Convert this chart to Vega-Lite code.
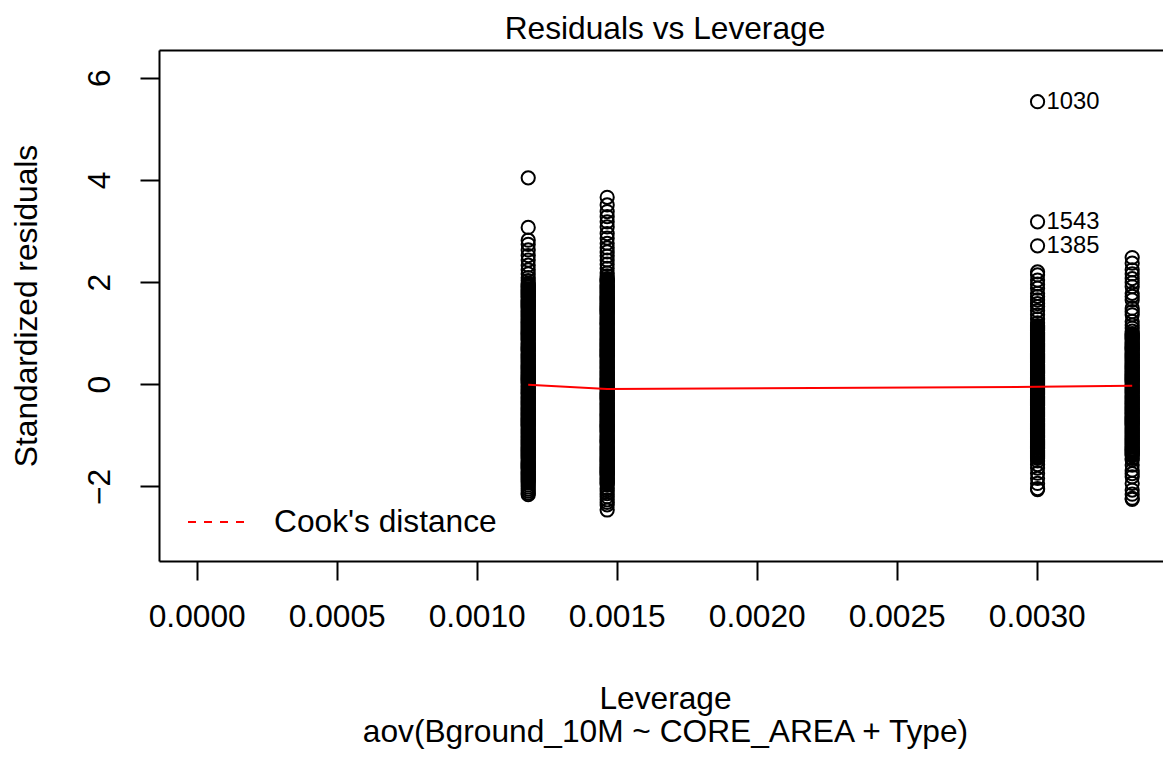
{
"$schema": "https://vega.github.io/schema/vega-lite/v6.json",
"width": 1004, "height": 511,
"autosize": {"type": "none"},
"padding": {"left": 159, "top": 50, "right": 0, "bottom": 196},
"background": "white",
"config": {"view": {"stroke": null}, "font": "Liberation Sans", "axis": {"grid": false}},
"title": {"text": "Residuals vs Leverage", "fontSize": 31.7, "fontWeight": "normal", "font": "Liberation Sans", "color": "black", "anchor": "middle", "baseline": "alphabetic", "offset": 13, "dx": 4, "dy": 34},
"datasets": {
"pts": [
{"lev":0.001184,"res":4.04},{"lev":0.001184,"res":3.07},{"lev":0.001184,"res":2.82},{"lev":0.001184,"res":2.74},{"lev":0.001184,"res":2.63},{"lev":0.001184,"res":2.52},{"lev":0.001184,"res":2.43},{"lev":0.001184,"res":2.33},{"lev":0.001184,"res":2.24},{"lev":0.001184,"res":2.16},{"lev":0.001184,"res":2.09},{"lev":0.001184,"res":2.03},
{"lev":0.001184,"res":1.98},{"lev":0.001184,"res":1.94},{"lev":0.001184,"res":1.90},{"lev":0.001184,"res":1.85},{"lev":0.001184,"res":1.81},{"lev":0.001184,"res":1.77},{"lev":0.001184,"res":1.73},{"lev":0.001184,"res":1.69},{"lev":0.001184,"res":1.64},{"lev":0.001184,"res":1.60},{"lev":0.001184,"res":1.56},{"lev":0.001184,"res":1.52},{"lev":0.001184,"res":1.48},{"lev":0.001184,"res":1.43},{"lev":0.001184,"res":1.39},{"lev":0.001184,"res":1.35},{"lev":0.001184,"res":1.31},{"lev":0.001184,"res":1.27},{"lev":0.001184,"res":1.22},{"lev":0.001184,"res":1.18},{"lev":0.001184,"res":1.14},{"lev":0.001184,"res":1.10},{"lev":0.001184,"res":1.06},{"lev":0.001184,"res":1.01},{"lev":0.001184,"res":0.97},{"lev":0.001184,"res":0.93},{"lev":0.001184,"res":0.89},{"lev":0.001184,"res":0.85},{"lev":0.001184,"res":0.80},{"lev":0.001184,"res":0.76},{"lev":0.001184,"res":0.72},{"lev":0.001184,"res":0.68},{"lev":0.001184,"res":0.64},{"lev":0.001184,"res":0.59},{"lev":0.001184,"res":0.55},{"lev":0.001184,"res":0.51},{"lev":0.001184,"res":0.47},{"lev":0.001184,"res":0.43},{"lev":0.001184,"res":0.38},{"lev":0.001184,"res":0.34},{"lev":0.001184,"res":0.30},{"lev":0.001184,"res":0.26},{"lev":0.001184,"res":0.22},{"lev":0.001184,"res":0.17},{"lev":0.001184,"res":0.13},{"lev":0.001184,"res":0.09},{"lev":0.001184,"res":0.05},{"lev":0.001184,"res":0.01},{"lev":0.001184,"res":-0.04},{"lev":0.001184,"res":-0.08},{"lev":0.001184,"res":-0.12},{"lev":0.001184,"res":-0.16},{"lev":0.001184,"res":-0.20},{"lev":0.001184,"res":-0.25},{"lev":0.001184,"res":-0.29},{"lev":0.001184,"res":-0.33},{"lev":0.001184,"res":-0.37},{"lev":0.001184,"res":-0.41},{"lev":0.001184,"res":-0.46},{"lev":0.001184,"res":-0.50},{"lev":0.001184,"res":-0.54},{"lev":0.001184,"res":-0.58},{"lev":0.001184,"res":-0.62},{"lev":0.001184,"res":-0.67},{"lev":0.001184,"res":-0.71},{"lev":0.001184,"res":-0.75},{"lev":0.001184,"res":-0.79},{"lev":0.001184,"res":-0.83},{"lev":0.001184,"res":-0.88},{"lev":0.001184,"res":-0.92},{"lev":0.001184,"res":-0.96},{"lev":0.001184,"res":-1.00},{"lev":0.001184,"res":-1.04},{"lev":0.001184,"res":-1.09},{"lev":0.001184,"res":-1.13},{"lev":0.001184,"res":-1.17},{"lev":0.001184,"res":-1.21},{"lev":0.001184,"res":-1.25},{"lev":0.001184,"res":-1.30},{"lev":0.001184,"res":-1.34},{"lev":0.001184,"res":-1.38},{"lev":0.001184,"res":-1.42},{"lev":0.001184,"res":-1.46},{"lev":0.001184,"res":-1.51},{"lev":0.001184,"res":-1.55},{"lev":0.001184,"res":-1.59},{"lev":0.001184,"res":-1.63},{"lev":0.001184,"res":-1.67},{"lev":0.001184,"res":-1.72},{"lev":0.001184,"res":-1.76},{"lev":0.001184,"res":-1.80},{"lev":0.001184,"res":-1.84},{"lev":0.001184,"res":-1.88},{"lev":0.001184,"res":-1.93},
{"lev":0.001184,"res":1.96},{"lev":0.001184,"res":1.92},{"lev":0.001184,"res":1.87},{"lev":0.001184,"res":1.83},{"lev":0.001184,"res":1.79},{"lev":0.001184,"res":1.75},{"lev":0.001184,"res":1.71},{"lev":0.001184,"res":1.66},{"lev":0.001184,"res":1.62},{"lev":0.001184,"res":1.58},{"lev":0.001184,"res":1.54},{"lev":0.001184,"res":1.50},{"lev":0.001184,"res":1.45},{"lev":0.001184,"res":1.41},{"lev":0.001184,"res":1.37},{"lev":0.001184,"res":1.33},{"lev":0.001184,"res":1.29},{"lev":0.001184,"res":1.24},{"lev":0.001184,"res":1.20},{"lev":0.001184,"res":1.16},{"lev":0.001184,"res":1.12},{"lev":0.001184,"res":1.08},{"lev":0.001184,"res":1.03},{"lev":0.001184,"res":0.99},{"lev":0.001184,"res":0.95},{"lev":0.001184,"res":0.91},{"lev":0.001184,"res":0.87},{"lev":0.001184,"res":0.82},{"lev":0.001184,"res":0.78},{"lev":0.001184,"res":0.74},{"lev":0.001184,"res":0.70},{"lev":0.001184,"res":0.66},{"lev":0.001184,"res":0.61},{"lev":0.001184,"res":0.57},{"lev":0.001184,"res":0.53},{"lev":0.001184,"res":0.49},{"lev":0.001184,"res":0.45},{"lev":0.001184,"res":0.40},{"lev":0.001184,"res":0.36},{"lev":0.001184,"res":0.32},{"lev":0.001184,"res":0.28},{"lev":0.001184,"res":0.24},{"lev":0.001184,"res":0.19},{"lev":0.001184,"res":0.15},{"lev":0.001184,"res":0.11},{"lev":0.001184,"res":0.07},{"lev":0.001184,"res":0.03},{"lev":0.001184,"res":-0.02},{"lev":0.001184,"res":-0.06},{"lev":0.001184,"res":-0.10},{"lev":0.001184,"res":-0.14},{"lev":0.001184,"res":-0.18},{"lev":0.001184,"res":-0.23},{"lev":0.001184,"res":-0.27},{"lev":0.001184,"res":-0.31},{"lev":0.001184,"res":-0.35},{"lev":0.001184,"res":-0.39},{"lev":0.001184,"res":-0.44},{"lev":0.001184,"res":-0.48},{"lev":0.001184,"res":-0.52},{"lev":0.001184,"res":-0.56},{"lev":0.001184,"res":-0.60},{"lev":0.001184,"res":-0.65},{"lev":0.001184,"res":-0.69},{"lev":0.001184,"res":-0.73},{"lev":0.001184,"res":-0.77},{"lev":0.001184,"res":-0.81},{"lev":0.001184,"res":-0.86},{"lev":0.001184,"res":-0.90},{"lev":0.001184,"res":-0.94},{"lev":0.001184,"res":-0.98},{"lev":0.001184,"res":-1.02},{"lev":0.001184,"res":-1.07},{"lev":0.001184,"res":-1.11},{"lev":0.001184,"res":-1.15},{"lev":0.001184,"res":-1.19},{"lev":0.001184,"res":-1.23},{"lev":0.001184,"res":-1.28},{"lev":0.001184,"res":-1.32},{"lev":0.001184,"res":-1.36},{"lev":0.001184,"res":-1.40},{"lev":0.001184,"res":-1.44},{"lev":0.001184,"res":-1.49},{"lev":0.001184,"res":-1.53},{"lev":0.001184,"res":-1.57},{"lev":0.001184,"res":-1.61},{"lev":0.001184,"res":-1.65},{"lev":0.001184,"res":-1.70},{"lev":0.001184,"res":-1.74},{"lev":0.001184,"res":-1.78},{"lev":0.001184,"res":-1.82},{"lev":0.001184,"res":-1.86},{"lev":0.001184,"res":-1.90},
{"lev":0.001184,"res":-1.97},{"lev":0.001184,"res":-2.01},{"lev":0.001184,"res":-2.05},{"lev":0.001184,"res":-2.09},{"lev":0.001184,"res":-2.13},{"lev":0.001184,"res":-2.16},
{"lev":0.001466,"res":3.66},{"lev":0.001466,"res":3.51},{"lev":0.001466,"res":3.38},{"lev":0.001466,"res":3.28},{"lev":0.001466,"res":3.18},{"lev":0.001466,"res":3.08},{"lev":0.001466,"res":2.95},{"lev":0.001466,"res":2.86},{"lev":0.001466,"res":2.76},{"lev":0.001466,"res":2.67},{"lev":0.001466,"res":2.59},{"lev":0.001466,"res":2.51},{"lev":0.001466,"res":2.43},{"lev":0.001466,"res":2.35},{"lev":0.001466,"res":2.27},{"lev":0.001466,"res":2.18},{"lev":0.001466,"res":2.12},
{"lev":0.001466,"res":2.07},{"lev":0.001466,"res":2.03},{"lev":0.001466,"res":1.99},{"lev":0.001466,"res":1.94},{"lev":0.001466,"res":1.90},{"lev":0.001466,"res":1.86},{"lev":0.001466,"res":1.82},{"lev":0.001466,"res":1.78},{"lev":0.001466,"res":1.73},{"lev":0.001466,"res":1.69},{"lev":0.001466,"res":1.65},{"lev":0.001466,"res":1.61},{"lev":0.001466,"res":1.57},{"lev":0.001466,"res":1.52},{"lev":0.001466,"res":1.48},{"lev":0.001466,"res":1.44},{"lev":0.001466,"res":1.40},{"lev":0.001466,"res":1.36},{"lev":0.001466,"res":1.31},{"lev":0.001466,"res":1.27},{"lev":0.001466,"res":1.23},{"lev":0.001466,"res":1.19},{"lev":0.001466,"res":1.15},{"lev":0.001466,"res":1.10},{"lev":0.001466,"res":1.06},{"lev":0.001466,"res":1.02},{"lev":0.001466,"res":0.98},{"lev":0.001466,"res":0.94},{"lev":0.001466,"res":0.89},{"lev":0.001466,"res":0.85},{"lev":0.001466,"res":0.81},{"lev":0.001466,"res":0.77},{"lev":0.001466,"res":0.73},{"lev":0.001466,"res":0.68},{"lev":0.001466,"res":0.64},{"lev":0.001466,"res":0.60},{"lev":0.001466,"res":0.56},{"lev":0.001466,"res":0.52},{"lev":0.001466,"res":0.47},{"lev":0.001466,"res":0.43},{"lev":0.001466,"res":0.39},{"lev":0.001466,"res":0.35},{"lev":0.001466,"res":0.31},{"lev":0.001466,"res":0.26},{"lev":0.001466,"res":0.22},{"lev":0.001466,"res":0.18},{"lev":0.001466,"res":0.14},{"lev":0.001466,"res":0.10},{"lev":0.001466,"res":0.05},{"lev":0.001466,"res":0.01},{"lev":0.001466,"res":-0.03},{"lev":0.001466,"res":-0.07},{"lev":0.001466,"res":-0.11},{"lev":0.001466,"res":-0.16},{"lev":0.001466,"res":-0.20},{"lev":0.001466,"res":-0.24},{"lev":0.001466,"res":-0.28},{"lev":0.001466,"res":-0.32},{"lev":0.001466,"res":-0.37},{"lev":0.001466,"res":-0.41},{"lev":0.001466,"res":-0.45},{"lev":0.001466,"res":-0.49},{"lev":0.001466,"res":-0.53},{"lev":0.001466,"res":-0.58},{"lev":0.001466,"res":-0.62},{"lev":0.001466,"res":-0.66},{"lev":0.001466,"res":-0.70},{"lev":0.001466,"res":-0.74},{"lev":0.001466,"res":-0.79},{"lev":0.001466,"res":-0.83},{"lev":0.001466,"res":-0.87},{"lev":0.001466,"res":-0.91},{"lev":0.001466,"res":-0.95},{"lev":0.001466,"res":-1.00},{"lev":0.001466,"res":-1.04},{"lev":0.001466,"res":-1.08},{"lev":0.001466,"res":-1.12},{"lev":0.001466,"res":-1.16},{"lev":0.001466,"res":-1.21},{"lev":0.001466,"res":-1.25},{"lev":0.001466,"res":-1.29},{"lev":0.001466,"res":-1.33},{"lev":0.001466,"res":-1.37},{"lev":0.001466,"res":-1.42},{"lev":0.001466,"res":-1.46},{"lev":0.001466,"res":-1.50},{"lev":0.001466,"res":-1.54},{"lev":0.001466,"res":-1.58},{"lev":0.001466,"res":-1.63},{"lev":0.001466,"res":-1.67},{"lev":0.001466,"res":-1.71},{"lev":0.001466,"res":-1.75},{"lev":0.001466,"res":-1.79},{"lev":0.001466,"res":-1.84},{"lev":0.001466,"res":-1.88},{"lev":0.001466,"res":-1.92},
{"lev":0.001466,"res":2.05},{"lev":0.001466,"res":2.01},{"lev":0.001466,"res":1.96},{"lev":0.001466,"res":1.92},{"lev":0.001466,"res":1.88},{"lev":0.001466,"res":1.84},{"lev":0.001466,"res":1.80},{"lev":0.001466,"res":1.75},{"lev":0.001466,"res":1.71},{"lev":0.001466,"res":1.67},{"lev":0.001466,"res":1.63},{"lev":0.001466,"res":1.59},{"lev":0.001466,"res":1.54},{"lev":0.001466,"res":1.50},{"lev":0.001466,"res":1.46},{"lev":0.001466,"res":1.42},{"lev":0.001466,"res":1.38},{"lev":0.001466,"res":1.33},{"lev":0.001466,"res":1.29},{"lev":0.001466,"res":1.25},{"lev":0.001466,"res":1.21},{"lev":0.001466,"res":1.17},{"lev":0.001466,"res":1.12},{"lev":0.001466,"res":1.08},{"lev":0.001466,"res":1.04},{"lev":0.001466,"res":1.00},{"lev":0.001466,"res":0.96},{"lev":0.001466,"res":0.91},{"lev":0.001466,"res":0.87},{"lev":0.001466,"res":0.83},{"lev":0.001466,"res":0.79},{"lev":0.001466,"res":0.75},{"lev":0.001466,"res":0.70},{"lev":0.001466,"res":0.66},{"lev":0.001466,"res":0.62},{"lev":0.001466,"res":0.58},{"lev":0.001466,"res":0.54},{"lev":0.001466,"res":0.49},{"lev":0.001466,"res":0.45},{"lev":0.001466,"res":0.41},{"lev":0.001466,"res":0.37},{"lev":0.001466,"res":0.33},{"lev":0.001466,"res":0.28},{"lev":0.001466,"res":0.24},{"lev":0.001466,"res":0.20},{"lev":0.001466,"res":0.16},{"lev":0.001466,"res":0.12},{"lev":0.001466,"res":0.07},{"lev":0.001466,"res":0.03},{"lev":0.001466,"res":-0.01},{"lev":0.001466,"res":-0.05},{"lev":0.001466,"res":-0.09},{"lev":0.001466,"res":-0.14},{"lev":0.001466,"res":-0.18},{"lev":0.001466,"res":-0.22},{"lev":0.001466,"res":-0.26},{"lev":0.001466,"res":-0.30},{"lev":0.001466,"res":-0.35},{"lev":0.001466,"res":-0.39},{"lev":0.001466,"res":-0.43},{"lev":0.001466,"res":-0.47},{"lev":0.001466,"res":-0.51},{"lev":0.001466,"res":-0.56},{"lev":0.001466,"res":-0.60},{"lev":0.001466,"res":-0.64},{"lev":0.001466,"res":-0.68},{"lev":0.001466,"res":-0.72},{"lev":0.001466,"res":-0.77},{"lev":0.001466,"res":-0.81},{"lev":0.001466,"res":-0.85},{"lev":0.001466,"res":-0.89},{"lev":0.001466,"res":-0.93},{"lev":0.001466,"res":-0.98},{"lev":0.001466,"res":-1.02},{"lev":0.001466,"res":-1.06},{"lev":0.001466,"res":-1.10},{"lev":0.001466,"res":-1.14},{"lev":0.001466,"res":-1.19},{"lev":0.001466,"res":-1.23},{"lev":0.001466,"res":-1.27},{"lev":0.001466,"res":-1.31},{"lev":0.001466,"res":-1.35},{"lev":0.001466,"res":-1.40},{"lev":0.001466,"res":-1.44},{"lev":0.001466,"res":-1.48},{"lev":0.001466,"res":-1.52},{"lev":0.001466,"res":-1.56},{"lev":0.001466,"res":-1.61},{"lev":0.001466,"res":-1.65},{"lev":0.001466,"res":-1.69},{"lev":0.001466,"res":-1.73},{"lev":0.001466,"res":-1.77},{"lev":0.001466,"res":-1.82},{"lev":0.001466,"res":-1.86},{"lev":0.001466,"res":-1.90},{"lev":0.001466,"res":-1.94},
{"lev":0.001466,"res":-1.97},{"lev":0.001466,"res":-2.03},{"lev":0.001466,"res":-2.08},{"lev":0.001466,"res":-2.14},{"lev":0.001466,"res":-2.20},{"lev":0.001466,"res":-2.26},{"lev":0.001466,"res":-2.31},{"lev":0.001466,"res":-2.36},{"lev":0.001466,"res":-2.46},
{"lev":0.003003,"res":5.53},{"lev":0.003003,"res":3.18},{"lev":0.003003,"res":2.71},
{"lev":0.003003,"res":2.20},{"lev":0.003003,"res":2.14},{"lev":0.003003,"res":2.04},{"lev":0.003003,"res":1.96},{"lev":0.003003,"res":1.88},{"lev":0.003003,"res":1.78},{"lev":0.003003,"res":1.72},{"lev":0.003003,"res":1.65},{"lev":0.003003,"res":1.58},{"lev":0.003003,"res":1.52},{"lev":0.003003,"res":1.44},{"lev":0.003003,"res":1.36},{"lev":0.003003,"res":1.28},{"lev":0.003003,"res":1.20},
{"lev":0.003003,"res":1.15},{"lev":0.003003,"res":1.11},{"lev":0.003003,"res":1.07},{"lev":0.003003,"res":1.02},{"lev":0.003003,"res":0.98},{"lev":0.003003,"res":0.94},{"lev":0.003003,"res":0.90},{"lev":0.003003,"res":0.86},{"lev":0.003003,"res":0.81},{"lev":0.003003,"res":0.77},{"lev":0.003003,"res":0.73},{"lev":0.003003,"res":0.69},{"lev":0.003003,"res":0.65},{"lev":0.003003,"res":0.60},{"lev":0.003003,"res":0.56},{"lev":0.003003,"res":0.52},{"lev":0.003003,"res":0.48},{"lev":0.003003,"res":0.44},{"lev":0.003003,"res":0.39},{"lev":0.003003,"res":0.35},{"lev":0.003003,"res":0.31},{"lev":0.003003,"res":0.27},{"lev":0.003003,"res":0.23},{"lev":0.003003,"res":0.18},{"lev":0.003003,"res":0.14},{"lev":0.003003,"res":0.10},{"lev":0.003003,"res":0.06},{"lev":0.003003,"res":0.02},{"lev":0.003003,"res":-0.03},{"lev":0.003003,"res":-0.07},{"lev":0.003003,"res":-0.11},{"lev":0.003003,"res":-0.15},{"lev":0.003003,"res":-0.19},{"lev":0.003003,"res":-0.24},{"lev":0.003003,"res":-0.28},{"lev":0.003003,"res":-0.32},{"lev":0.003003,"res":-0.36},{"lev":0.003003,"res":-0.40},{"lev":0.003003,"res":-0.45},{"lev":0.003003,"res":-0.49},{"lev":0.003003,"res":-0.53},{"lev":0.003003,"res":-0.57},{"lev":0.003003,"res":-0.61},{"lev":0.003003,"res":-0.66},{"lev":0.003003,"res":-0.70},{"lev":0.003003,"res":-0.74},{"lev":0.003003,"res":-0.78},{"lev":0.003003,"res":-0.82},{"lev":0.003003,"res":-0.87},{"lev":0.003003,"res":-0.91},{"lev":0.003003,"res":-0.95},{"lev":0.003003,"res":-0.99},{"lev":0.003003,"res":-1.03},{"lev":0.003003,"res":-1.08},{"lev":0.003003,"res":-1.12},{"lev":0.003003,"res":-1.16},{"lev":0.003003,"res":-1.20},{"lev":0.003003,"res":-1.24},{"lev":0.003003,"res":-1.29},{"lev":0.003003,"res":-1.33},{"lev":0.003003,"res":-1.37},{"lev":0.003003,"res":-1.41},{"lev":0.003003,"res":-1.45},
{"lev":0.003003,"res":1.13},{"lev":0.003003,"res":1.09},{"lev":0.003003,"res":1.05},{"lev":0.003003,"res":1.00},{"lev":0.003003,"res":0.96},{"lev":0.003003,"res":0.92},{"lev":0.003003,"res":0.88},{"lev":0.003003,"res":0.84},{"lev":0.003003,"res":0.79},{"lev":0.003003,"res":0.75},{"lev":0.003003,"res":0.71},{"lev":0.003003,"res":0.67},{"lev":0.003003,"res":0.63},{"lev":0.003003,"res":0.58},{"lev":0.003003,"res":0.54},{"lev":0.003003,"res":0.50},{"lev":0.003003,"res":0.46},{"lev":0.003003,"res":0.42},{"lev":0.003003,"res":0.37},{"lev":0.003003,"res":0.33},{"lev":0.003003,"res":0.29},{"lev":0.003003,"res":0.25},{"lev":0.003003,"res":0.21},{"lev":0.003003,"res":0.16},{"lev":0.003003,"res":0.12},{"lev":0.003003,"res":0.08},{"lev":0.003003,"res":0.04},{"lev":0.003003,"res":0.00},{"lev":0.003003,"res":-0.05},{"lev":0.003003,"res":-0.09},{"lev":0.003003,"res":-0.13},{"lev":0.003003,"res":-0.17},{"lev":0.003003,"res":-0.21},{"lev":0.003003,"res":-0.26},{"lev":0.003003,"res":-0.30},{"lev":0.003003,"res":-0.34},{"lev":0.003003,"res":-0.38},{"lev":0.003003,"res":-0.42},{"lev":0.003003,"res":-0.47},{"lev":0.003003,"res":-0.51},{"lev":0.003003,"res":-0.55},{"lev":0.003003,"res":-0.59},{"lev":0.003003,"res":-0.63},{"lev":0.003003,"res":-0.68},{"lev":0.003003,"res":-0.72},{"lev":0.003003,"res":-0.76},{"lev":0.003003,"res":-0.80},{"lev":0.003003,"res":-0.84},{"lev":0.003003,"res":-0.89},{"lev":0.003003,"res":-0.93},{"lev":0.003003,"res":-0.97},{"lev":0.003003,"res":-1.01},{"lev":0.003003,"res":-1.05},{"lev":0.003003,"res":-1.10},{"lev":0.003003,"res":-1.14},{"lev":0.003003,"res":-1.18},{"lev":0.003003,"res":-1.22},{"lev":0.003003,"res":-1.26},{"lev":0.003003,"res":-1.31},{"lev":0.003003,"res":-1.35},{"lev":0.003003,"res":-1.39},{"lev":0.003003,"res":-1.43},
{"lev":0.003003,"res":-1.50},{"lev":0.003003,"res":-1.57},{"lev":0.003003,"res":-1.64},{"lev":0.003003,"res":-1.74},{"lev":0.003003,"res":-1.84},{"lev":0.003003,"res":-1.94},{"lev":0.003003,"res":-2.04},{"lev":0.003003,"res":-2.06},
{"lev":0.003341,"res":2.48},{"lev":0.003341,"res":2.37},{"lev":0.003341,"res":2.24},{"lev":0.003341,"res":2.16},{"lev":0.003341,"res":2.07},{"lev":0.003341,"res":1.99},{"lev":0.003341,"res":1.91},{"lev":0.003341,"res":1.78},{"lev":0.003341,"res":1.72},{"lev":0.003341,"res":1.65},{"lev":0.003341,"res":1.49},{"lev":0.003341,"res":1.42},{"lev":0.003341,"res":1.36},{"lev":0.003341,"res":1.23},{"lev":0.003341,"res":1.16},{"lev":0.003341,"res":1.10},{"lev":0.003341,"res":1.04},
{"lev":0.003341,"res":0.99},{"lev":0.003341,"res":0.95},{"lev":0.003341,"res":0.91},{"lev":0.003341,"res":0.87},{"lev":0.003341,"res":0.82},{"lev":0.003341,"res":0.78},{"lev":0.003341,"res":0.74},{"lev":0.003341,"res":0.70},{"lev":0.003341,"res":0.66},{"lev":0.003341,"res":0.61},{"lev":0.003341,"res":0.57},{"lev":0.003341,"res":0.53},{"lev":0.003341,"res":0.49},{"lev":0.003341,"res":0.45},{"lev":0.003341,"res":0.40},{"lev":0.003341,"res":0.36},{"lev":0.003341,"res":0.32},{"lev":0.003341,"res":0.28},{"lev":0.003341,"res":0.24},{"lev":0.003341,"res":0.19},{"lev":0.003341,"res":0.15},{"lev":0.003341,"res":0.11},{"lev":0.003341,"res":0.07},{"lev":0.003341,"res":0.03},{"lev":0.003341,"res":-0.02},{"lev":0.003341,"res":-0.06},{"lev":0.003341,"res":-0.10},{"lev":0.003341,"res":-0.14},{"lev":0.003341,"res":-0.18},{"lev":0.003341,"res":-0.23},{"lev":0.003341,"res":-0.27},{"lev":0.003341,"res":-0.31},{"lev":0.003341,"res":-0.35},{"lev":0.003341,"res":-0.39},{"lev":0.003341,"res":-0.44},{"lev":0.003341,"res":-0.48},{"lev":0.003341,"res":-0.52},{"lev":0.003341,"res":-0.56},{"lev":0.003341,"res":-0.60},{"lev":0.003341,"res":-0.65},{"lev":0.003341,"res":-0.69},{"lev":0.003341,"res":-0.73},{"lev":0.003341,"res":-0.77},{"lev":0.003341,"res":-0.81},{"lev":0.003341,"res":-0.86},{"lev":0.003341,"res":-0.90},{"lev":0.003341,"res":-0.94},{"lev":0.003341,"res":-0.98},{"lev":0.003341,"res":-1.02},{"lev":0.003341,"res":-1.07},{"lev":0.003341,"res":-1.11},{"lev":0.003341,"res":-1.15},{"lev":0.003341,"res":-1.19},{"lev":0.003341,"res":-1.23},{"lev":0.003341,"res":-1.28},{"lev":0.003341,"res":-1.32},{"lev":0.003341,"res":-1.36},{"lev":0.003341,"res":-1.40},
{"lev":0.003341,"res":0.97},{"lev":0.003341,"res":0.93},{"lev":0.003341,"res":0.89},{"lev":0.003341,"res":0.84},{"lev":0.003341,"res":0.80},{"lev":0.003341,"res":0.76},{"lev":0.003341,"res":0.72},{"lev":0.003341,"res":0.68},{"lev":0.003341,"res":0.63},{"lev":0.003341,"res":0.59},{"lev":0.003341,"res":0.55},{"lev":0.003341,"res":0.51},{"lev":0.003341,"res":0.47},{"lev":0.003341,"res":0.42},{"lev":0.003341,"res":0.38},{"lev":0.003341,"res":0.34},{"lev":0.003341,"res":0.30},{"lev":0.003341,"res":0.26},{"lev":0.003341,"res":0.21},{"lev":0.003341,"res":0.17},{"lev":0.003341,"res":0.13},{"lev":0.003341,"res":0.09},{"lev":0.003341,"res":0.05},{"lev":0.003341,"res":0.00},{"lev":0.003341,"res":-0.04},{"lev":0.003341,"res":-0.08},{"lev":0.003341,"res":-0.12},{"lev":0.003341,"res":-0.16},{"lev":0.003341,"res":-0.21},{"lev":0.003341,"res":-0.25},{"lev":0.003341,"res":-0.29},{"lev":0.003341,"res":-0.33},{"lev":0.003341,"res":-0.37},{"lev":0.003341,"res":-0.42},{"lev":0.003341,"res":-0.46},{"lev":0.003341,"res":-0.50},{"lev":0.003341,"res":-0.54},{"lev":0.003341,"res":-0.58},{"lev":0.003341,"res":-0.63},{"lev":0.003341,"res":-0.67},{"lev":0.003341,"res":-0.71},{"lev":0.003341,"res":-0.75},{"lev":0.003341,"res":-0.79},{"lev":0.003341,"res":-0.84},{"lev":0.003341,"res":-0.88},{"lev":0.003341,"res":-0.92},{"lev":0.003341,"res":-0.96},{"lev":0.003341,"res":-1.00},{"lev":0.003341,"res":-1.05},{"lev":0.003341,"res":-1.09},{"lev":0.003341,"res":-1.13},{"lev":0.003341,"res":-1.17},{"lev":0.003341,"res":-1.21},{"lev":0.003341,"res":-1.26},{"lev":0.003341,"res":-1.30},{"lev":0.003341,"res":-1.34},{"lev":0.003341,"res":-1.38},
{"lev":0.003341,"res":-1.45},{"lev":0.003341,"res":-1.48},{"lev":0.003341,"res":-1.58},{"lev":0.003341,"res":-1.68},{"lev":0.003341,"res":-1.75},{"lev":0.003341,"res":-1.81},{"lev":0.003341,"res":-1.94},{"lev":0.003341,"res":-2.07},{"lev":0.003341,"res":-2.15},{"lev":0.003341,"res":-2.23},{"lev":0.003341,"res":-2.25}
],
"fit": [{"lev":0.001184,"res":-0.01},{"lev":0.001466,"res":-0.09},{"lev":0.003003,"res":-0.05},{"lev":0.003341,"res":-0.03}],
"lab": [{"lev":0.003003,"res":5.53,"id":"1030"},{"lev":0.003003,"res":3.18,"id":"1543"},{"lev":0.003003,"res":2.71,"id":"1385"}],
"cook": []
},
"resolve": {"axis": {"x": "independent"}},
"layer": [
{
"data": {"name": "pts"},
"mark": {"type": "point", "shape": "circle", "filled": false, "stroke": "black", "strokeWidth": 2, "size": 175, "opacity": 1},
"encoding": {
"x": {"field": "lev", "type": "quantitative", "scale": {"domain": [-0.0001346, 0.003451], "nice": false, "zero": false},
"axis": {"orient": "bottom", "values": [0, 0.0005, 0.001, 0.0015, 0.002, 0.0025, 0.003], "format": ".4f", "tickSize": 19, "tickWidth": 2, "tickColor": "black", "domainColor": "black", "domainWidth": 2, "labelFontSize": 31.7, "labelFont": "Liberation Sans", "labelBaseline": "alphabetic", "labelPadding": 46, "labelColor": "black", "labelFlush": false, "labelOverlap": false,
"title": ["Leverage", "aov(Bground_10M ~ CORE_AREA + Type)"], "titleFontSize": 31.7, "titleFont": "Liberation Sans", "titleFontWeight": "normal", "titleColor": "black", "titleBaseline": "alphabetic", "titleX": 506, "titleY": 147, "titleAlign": "center", "titleAnchor": null, "titleLineHeight": 33}},
"y": {"field": "res", "type": "quantitative", "title": "Standardized residuals", "scale": {"domain": [-3.458, 6.542], "nice": false, "zero": false},
"axis": {"orient": "left", "values": [-2, 0, 2, 4, 6], "tickSize": 19, "tickWidth": 2, "tickColor": "black", "domainColor": "black", "domainWidth": 2, "labelAngle": -90, "labelAlign": "center", "labelBaseline": "alphabetic", "labelPadding": 31, "labelFontSize": 31.7, "labelFont": "Liberation Sans", "labelColor": "black", "labelFlush": false, "labelOverlap": false,
"titleFontSize": 31.7, "titleFont": "Liberation Sans", "titleFontWeight": "normal", "titleColor": "black", "titleAngle": -90, "titleAlign": "center", "titleBaseline": "alphabetic", "titleX": -123, "titleY": 255.5, "titleAnchor": null}}
}
},
{
"mark": {"type": "rule", "color": "#bebebe", "strokeWidth": 2, "strokeDash": [2, 6]},
"encoding": {"x": {"datum": 0, "type": "quantitative", "axis": {"orient": "top", "ticks": false, "labels": false, "title": null, "domain": true, "domainColor": "black", "domainWidth": 2}}}
},
{
"mark": {"type": "rule", "color": "#bebebe", "strokeWidth": 2, "strokeDash": [2, 6]},
"encoding": {"y": {"datum": 0, "type": "quantitative", "title": "Standardized residuals"}}
},
{
"data": {"name": "fit"},
"mark": {"type": "line", "color": "red", "strokeWidth": 2},
"encoding": {
"x": {"field": "lev", "type": "quantitative", "axis": null},
"y": {"field": "res", "type": "quantitative", "title": "Standardized residuals"}
}
},
{
"data": {"name": "lab"},
"mark": {"type": "text", "align": "left", "baseline": "middle", "dx": 9, "fontSize": 23.8, "font": "Liberation Sans", "color": "black"},
"encoding": {
"x": {"field": "lev", "type": "quantitative", "axis": null},
"y": {"field": "res", "type": "quantitative", "title": "Standardized residuals"},
"text": {"field": "id", "type": "nominal"}
}
},
{
"data": {"name": "cook"},
"mark": {"type": "line", "strokeWidth": 2, "strokeDash": [8, 8]},
"encoding": {
"color": {"field": "series", "type": "nominal", "scale": {"domain": ["Cook's distance"], "range": ["red"]},
"legend": {"orient": "none", "legendX": 28, "legendY": 443, "title": null, "symbolType": "stroke", "symbolDash": [8, 8], "symbolSize": 3136, "symbolStrokeWidth": 2, "symbolStrokeColor": "red", "labelFontSize": 31.7, "labelFont": "Liberation Sans", "labelColor": "black", "labelOffset": 29, "padding": 0, "labelLimit": 0}}
}
}
]
}
